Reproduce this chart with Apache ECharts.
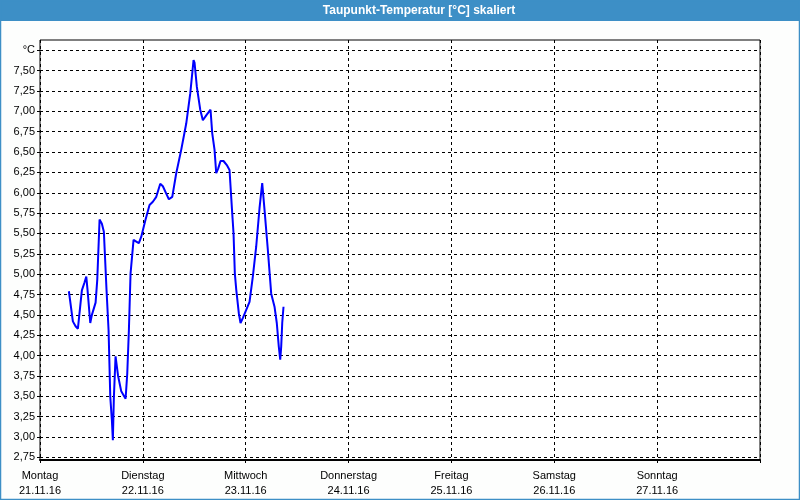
<!DOCTYPE html>
<html>
<head>
<meta charset="utf-8">
<script src="https://cdn.jsdelivr.net/npm/echarts@6/dist/echarts.min.js"></script>
<style>
html,body{margin:0;padding:0;background:#fdfefd;}
#chart{width:800px;height:500px;}
</style>
</head>
<body>
<div id="chart"></div>
<script>
// ---- data ----
const chartTitle = 'Taupunkt-Temperatur [°C] skaliert';
const dayNames = ['Montag', 'Dienstag', 'Mittwoch', 'Donnerstag', 'Freitag', 'Samstag', 'Sonntag'];
const dayDates = ['21.11.16', '22.11.16', '23.11.16', '24.11.16', '25.11.16', '26.11.16', '27.11.16'];
const yTickLabels = ['2,75', '3,00', '3,25', '3,50', '3,75', '4,00', '4,25', '4,50', '4,75', '5,00',
  '5,25', '5,50', '5,75', '6,00', '6,25', '6,50', '6,75', '7,00', '7,25', '7,50', '°C'];
// hours since Monday 21.11.16 00:00
const hours = [6.74, 7.67, 8.30, 8.84, 9.24, 9.77, 10.40, 10.80, 11.10, 11.73, 12.11, 12.97, 13.36, 13.90,
  14.44, 14.90, 15.53, 16.00, 16.40, 16.77, 17.00, 17.24, 17.63, 17.94, 18.22, 18.57, 18.96, 19.97,
  20.36, 20.74, 21.13, 21.83, 22.46, 23.07, 23.63, 24.63, 25.56, 26.33, 27.13, 28.06, 28.67, 29.46,
  30.07, 30.86, 31.79, 32.96, 34.12, 35.06, 35.83, 36.06, 36.60, 37.39, 38.00, 38.79, 39.79, 40.19,
  40.72, 41.12, 41.59, 42.12, 42.82, 43.59, 44.22, 44.85, 45.16, 45.46, 45.79, 46.39, 46.79, 47.32,
  47.95, 48.89, 49.66, 50.45, 51.22, 51.85, 52.16, 52.39, 53.16, 53.95, 54.72, 55.25, 55.72, 56.05,
  56.28, 56.52, 56.82];
const dewPoint = [4.79, 4.42, 4.36, 4.33, 4.33, 4.80, 4.90, 4.97, 4.80, 4.40, 4.50, 4.65, 4.93, 5.67,
  5.62, 5.52, 4.80, 4.31, 3.49, 3.21, 2.96, 3.49, 3.99, 3.99, 3.75, 3.66, 3.56, 3.47,
  3.78, 4.31, 5.01, 5.42, 5.40, 5.38, 5.46, 5.67, 5.85, 5.89, 5.95, 6.11, 6.08, 5.99,
  5.92, 5.95, 6.24, 6.53, 6.85, 7.22, 7.63, 7.60, 7.30, 7.02, 6.89, 6.95, 7.02, 6.73,
  6.53, 6.24, 6.30, 6.39, 6.39, 6.34, 6.28, 5.75, 5.50, 5.01, 4.81, 4.52, 4.40, 4.46,
  4.54, 4.66, 4.97, 5.34, 5.81, 6.12, 6.10, 5.79, 5.30, 4.76, 4.60, 4.40, 4.11, 3.95,
  4.11, 4.40, 4.60];

const seriesData = hours.map((h, i) => [h, dewPoint[i]]);
const FONT = 'Liberation Sans';

const chart = echarts.init(document.getElementById('chart'), null, {renderer: 'canvas'});
chart.setOption({
  animation: false,
  backgroundColor: '#fdfefd',
  graphic: [
    {type: 'rect', z: -1, shape: {x: 0, y: 0, width: 800, height: 21}, style: {fill: '#3d8fc6'}},
    {type: 'text', z: 10, x: 419, y: 10.5,
      style: {text: chartTitle, fill: '#ffffff', font: 'bold 12px "Liberation Sans"',
        textAlign: 'center', textVerticalAlign: 'middle'}},
    {type: 'rect', z: 100, shape: {x: 0.5, y: 0.5, width: 799, height: 499},
      style: {fill: null, stroke: '#3d8fc6', lineWidth: 1.5}}
  ],
  grid: [
    {left: 40, right: 40, top: 40, bottom: 40, show: true, backgroundColor: '#ffffff',
      borderColor: '#000000', borderWidth: 1, z: 0},
    {left: 40, right: 40, top: 50.3, bottom: 42.7}
  ],
  xAxis: [
    {
      gridIndex: 0, type: 'value', min: 0, max: 168, interval: 24,
      axisLine: {show: true, lineStyle: {color: '#000000', width: 2}},
      axisTick: {show: true, length: 3, lineStyle: {color: '#000000'}},
      splitLine: {show: true, lineStyle: {color: '#000000', type: [3, 3], width: 1}},
      axisLabel: {
        margin: 8, color: '#000000', fontFamily: FONT, fontSize: 11, lineHeight: 15,
        formatter: function (v) {
          const i = Math.round(v / 24);
          return i < dayNames.length ? dayNames[i] + '\n' + dayDates[i] : '';
        }
      }
    },
    {gridIndex: 1, type: 'value', min: 0, max: 168, show: false, splitLine: {show: false}}
  ],
  yAxis: [
    {gridIndex: 0, type: 'value', min: 0, max: 1, show: false, splitLine: {show: false}},
    {
      gridIndex: 1, type: 'value', min: 2.75, max: 7.75, interval: 0.25,
      axisLine: {show: false},
      axisTick: {show: true, length: 3, lineStyle: {color: '#000000'}},
      splitLine: {show: true, lineStyle: {color: '#000000', type: [3, 3], width: 1}},
      axisLabel: {
        margin: 5, color: '#000000', fontFamily: FONT, fontSize: 11,
        formatter: function (v) {
          return yTickLabels[Math.round((v - 2.75) / 0.25)] || '';
        }
      }
    }
  ],
  series: [{
    type: 'line', xAxisIndex: 1, yAxisIndex: 1, data: seriesData,
    showSymbol: false, smooth: false, clip: false,
    lineStyle: {color: '#0000ff', width: 2}
  }]
});
</script>
</body>
</html>
